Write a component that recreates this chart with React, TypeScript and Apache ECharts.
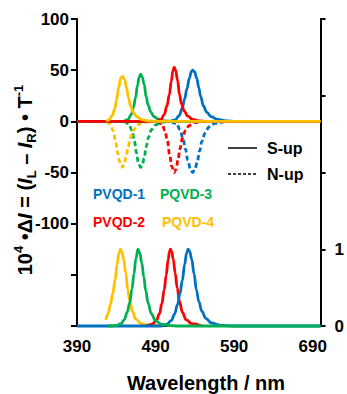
import React, { useEffect, useRef } from "react";
import * as echarts from "echarts";

const FONT = "'Liberation Sans', Arial, sans-serif";
const BLUE = "#0070C0";
const GREEN = "#00B050";
const RED = "#FF0000";
const YELLOW = "#FFC000";

const xTicks = [390, 490, 590, 690];
const leftTickLabels = [100, 50, 0, -50, -100];
const rightTickLabels = [0, 1];

// Upper panel: CPL, S-up (solid)
const pvqd1S = [[390,0],[508,0],[515,1.5],[520,5.5],[524,13],[527,22],[530,32],[533,42],[535.5,48.5],[537.2,50],[539.5,48.5],[542.5,42],[545,33],[547.5,24],[551,15],[555,9],[561,4.5],[569,1.8],[580,0.4],[592,0],[700,0]];
const pqvd3S = [[390,0],[449,0],[455,1.8],[459,6.5],[462,14],[464.5,23],[467,35],[469,43],[471,46],[473,43.5],[475.5,36],[478,24],[480.5,16],[484,9],[488,4.5],[494,1.8],[502,0.5],[512,0],[700,0]];
const pvqd2S = [[390,0],[491,0],[497,1.8],[501,6.5],[504.5,15],[507.5,26],[510,39],[512,49],[513.7,53],[515.5,50],[518,40],[520.5,26],[523,17],[526.5,10],[531,5],[537,2],[545,0.5],[555,0],[700,0]];
const pqvd4S = [[427,0],[431,1.5],[435,6],[438,12],[440.5,21],[443,33],[445.5,42],[448,44],[450.5,41],[453,33],[455.5,23],[458,15.5],[461.5,9],[466,4.5],[472,1.8],[480,0.5],[490,0],[700,0]];

// Upper panel: CPL, N-up (dashed)
const pvqd1N = [[510,0],[517,-2.5],[521,-8],[525,-17],[528,-27],[531,-38],[534.5,-47],[537.2,-50],[540,-47.5],[543,-40],[546,-29],[549,-19.5],[553,-11.5],[558,-5.5],[566,-2],[578,0]];
const pqvd3N = [[450,0],[456,-2.5],[460,-9],[463,-19],[465.5,-30],[468,-40],[471,-45],[473,-43],[475.5,-36],[478,-25],[481,-15.5],[485,-8],[490,-3.5],[497,-1],[508,0]];
const pvqd2N = [[492,0],[498,-2.5],[502,-9],[505,-19],[508,-33],[510.5,-44],[513.7,-50],[516,-47],[518.5,-38],[521,-27],[524,-17],[528,-9],[533,-4],[540,-1.2],[550,0]];
const pqvd4N = [[428,0],[432,-2.5],[436,-9],[439,-19],[441.5,-30],[444,-39],[446,-43.5],[447.8,-45],[450,-42.5],[452.5,-35],[455,-25],[458,-16],[462,-8.5],[467,-3.5],[474,-1],[485,0]];

// Lower panel: normalized PL (right axis)
const pqvd4PL = [[426.7,0.08],[429.5,0.16],[432.5,0.28],[435.5,0.42],[438.5,0.6],[441,0.8],[443.3,0.95],[445.3,1],[447.3,0.96],[449.5,0.86],[452,0.7],[454.5,0.48],[457,0.33],[460.5,0.19],[465,0.09],[471,0.035],[480,0.01],[495,0]];
const pvqd2PL = [[478,0],[485,0.02],[491,0.07],[495,0.16],[498,0.29],[501,0.47],[503.5,0.66],[506,0.86],[507.7,0.97],[509,1],[510.5,0.97],[512.5,0.87],[515,0.69],[517.5,0.5],[520.5,0.32],[524,0.18],[529,0.08],[536,0.03],[549,0]];
const pvqd1PL = [[390,0],[497,0],[504,0.02],[510,0.07],[514,0.15],[518,0.28],[521,0.42],[524,0.59],[527,0.8],[529.5,0.95],[531.4,1],[533.5,0.97],[536,0.87],[539,0.68],[542,0.47],[545,0.32],[549,0.19],[554,0.1],[561,0.04],[572,0.012],[587,0],[700,0]];
const pqvd3PL = [[429,0],[440,0.005],[446,0.03],[450,0.08],[454,0.18],[457,0.3],[460,0.48],[462.5,0.68],[465,0.88],[467.6,1],[470,0.95],[472.5,0.82],[475,0.64],[477.5,0.46],[480.5,0.3],[484.5,0.16],[490,0.07],[497,0.025],[507,0.006],[520,0],[700,0]];

const labels = [
  { text: "PVQD-1", color: BLUE, x: 93, y: 194 },
  { text: "PQVD-3", color: GREEN, x: 160, y: 194 },
  { text: "PVQD-2", color: RED, x: 93, y: 222 },
  { text: "PQVD-4", color: YELLOW, x: 162, y: 222 },
];

function line(data: number[][], color: string, yAxisIndex: number, dashed = false) {
  return {
    type: "line",
    xAxisIndex: 0,
    yAxisIndex,
    data,
    showSymbol: false,
    smooth: 0.4,
    smoothMonotone: "x",
    clip: false,
    lineStyle: { color, width: 2.8, type: dashed ? [5, 3] : "solid" },
    silent: true,
  };
}

export default function App() {
  const ref = useRef<HTMLDivElement>(null);
  useEffect(() => {
    if (!ref.current) return;
    const chart = echarts.init(ref.current, null, { renderer: "svg" });
    const axisLine = { show: true, lineStyle: { color: "#000", width: 2 } };
    const labelStyle = { color: "#000", fontSize: 17, fontWeight: "bold", fontFamily: FONT };
    const n = { fontSize: 20, fontWeight: "bold", fontFamily: FONT, fill: "#000", lineHeight: 26, verticalAlign: "middle" };
    chart.setOption({
      animation: false,
      backgroundColor: "#fff",
      grid: { left: 77, right: 25, top: 19, bottom: 68, containLabel: false },
      xAxis: [
        {
          type: "value", min: 390, max: 700, interval: 100, position: "bottom",
          axisLine, axisTick: { show: false }, splitLine: { show: false },
          axisLabel: { ...labelStyle, margin: 12, showMaxLabel: false,
            formatter: (v: number) => (xTicks.includes(v) ? String(v) : "") },
        },
        {
          type: "value", min: 390, max: 700, position: "top",
          axisLine, axisTick: { show: false }, axisLabel: { show: false }, splitLine: { show: false },
        },
      ],
      yAxis: [
        {
          type: "value", min: -200, max: 100, interval: 50, position: "left",
          axisLine, axisTick: { show: true, inside: false, length: 6, lineStyle: { color: "#000", width: 2 } },
          splitLine: { show: false },
          axisLabel: { ...labelStyle, margin: 8,
            formatter: (v: number) => (leftTickLabels.includes(v) ? String(v) : "") },
        },
        {
          type: "value", min: 0, max: 4, interval: 1, position: "right",
          axisLine, axisTick: { show: true, inside: false, length: 5, lineStyle: { color: "#000", width: 2 } },
          splitLine: { show: false },
          axisLabel: { ...labelStyle, margin: 14,
            formatter: (v: number) => (rightTickLabels.includes(v) ? String(v) : "") },
        },
      ],
      series: [
        line(pvqd1N, BLUE, 0, true),
        line(pvqd2N, RED, 0, true),
        line(pqvd3N, GREEN, 0, true),
        line(pqvd4N, YELLOW, 0, true),
        line(pvqd1S, BLUE, 0),
        line(pqvd3S, GREEN, 0),
        line(pvqd2S, RED, 0),
        line(pqvd4S, YELLOW, 0),
        line(pqvd4PL, YELLOW, 1),
        line(pvqd2PL, RED, 1),
        line(pvqd1PL, BLUE, 1),
        line(pqvd3PL, GREEN, 1),
      ],
      graphic: [
        {
          type: "text", x: 25, y: 180, rotation: Math.PI / 2,
          style: {
            text: "{n|10}{sup|4}{n| •Δ}{i|I}{n| = (}{i|I}{sub|L}{n| – }{i|I}{sub|R}{n|) • T}{sup|-1}",
            align: "center", verticalAlign: "middle",
            rich: {
              n,
              i: { ...n, fontStyle: "italic" },
              sup: { fontSize: 13, fontWeight: "bold", fontFamily: FONT, fill: "#000", lineHeight: 15, verticalAlign: "top" },
              sub: { fontSize: 13, fontWeight: "bold", fontFamily: FONT, fill: "#000", lineHeight: 15, verticalAlign: "bottom" },
            },
          },
        },
        {
          type: "text", x: 206, y: 383,
          style: { text: "Wavelength / nm", align: "center", verticalAlign: "middle",
            fontSize: 20, fontWeight: "bold", fontFamily: FONT, fill: "#000" },
        },
        { type: "line", shape: { x1: 228, y1: 148, x2: 257, y2: 148 }, style: { stroke: "#000", lineWidth: 1.5 } },
        { type: "line", shape: { x1: 228, y1: 174, x2: 257, y2: 174 }, style: { stroke: "#000", lineWidth: 1.5, lineDash: [3, 2] } },
        { type: "text", x: 267, y: 148, style: { text: "S-up", align: "left", verticalAlign: "middle", fontSize: 16, fontWeight: "bold", fontFamily: FONT, fill: "#000" } },
        { type: "text", x: 267, y: 174, style: { text: "N-up", align: "left", verticalAlign: "middle", fontSize: 16, fontWeight: "bold", fontFamily: FONT, fill: "#000" } },
        ...labels.map((l) => ({
          type: "text", x: l.x, y: l.y,
          style: { text: l.text, align: "left", verticalAlign: "middle", fontSize: 14, fontWeight: "bold", fontFamily: FONT, fill: l.color },
        })),
      ],
    });
    return () => chart.dispose();
  }, []);
  return <div ref={ref} style={{ position: "absolute", left: 0, top: 0, width: 347, height: 394 }} />;
}
